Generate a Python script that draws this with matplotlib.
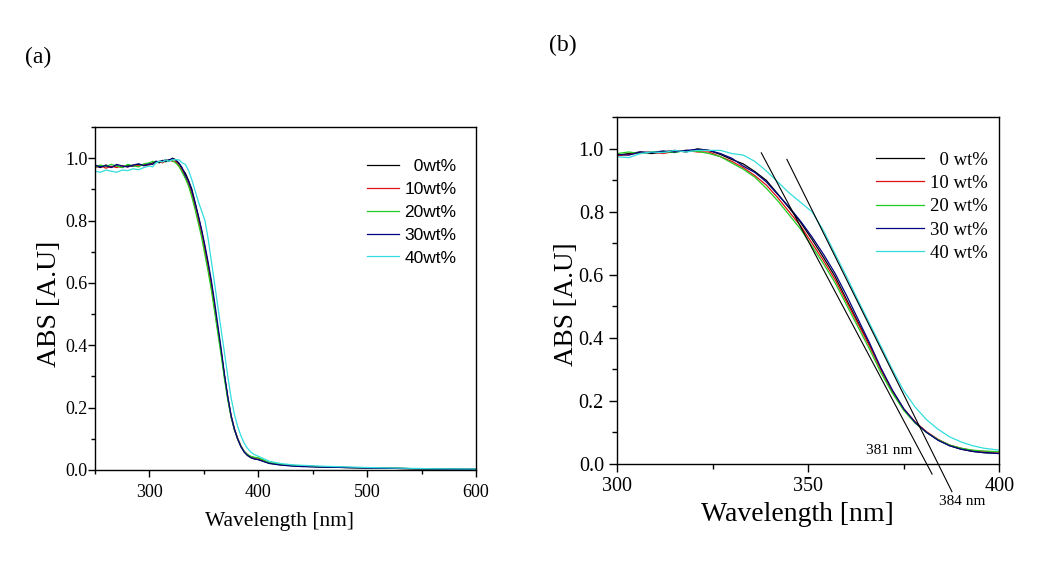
import matplotlib
matplotlib.use("Agg")
import matplotlib.pyplot as plt
from matplotlib.ticker import MultipleLocator, FormatStrFormatter
import numpy as np

# ---------------- data ----------------
wavelength = [250, 255, 260, 265, 270, 275, 280, 285, 290, 295,
              300, 303, 306, 309, 312, 315, 318, 321, 324, 327,
              330, 333, 336, 339, 342, 345, 348, 351, 354, 357,
              360, 363, 366, 369, 372, 375, 378, 381, 384, 387,
              390, 393, 396, 400, 410, 420, 430, 440, 460, 480,
              500, 530, 560, 600]

abs_0 = [0.975, 0.970, 0.978, 0.972, 0.976, 0.970, 0.978, 0.974, 0.980, 0.976,
         0.980, 0.985, 0.990, 0.985, 0.990, 0.995, 0.990, 1.000, 0.995, 0.982,
         0.966, 0.952, 0.928, 0.900, 0.857, 0.812, 0.766, 0.712, 0.655, 0.595,
         0.522, 0.450, 0.378, 0.300, 0.230, 0.172, 0.130, 0.100, 0.076, 0.058,
         0.047, 0.040, 0.036, 0.034, 0.022, 0.017, 0.014, 0.012, 0.010, 0.008,
         0.007, 0.005, 0.003, 0.002]

abs_10 = [0.970, 0.976, 0.968, 0.974, 0.970, 0.976, 0.972, 0.978, 0.975, 0.980,
          0.978, 0.982, 0.988, 0.990, 0.985, 0.992, 0.995, 0.990, 0.990, 0.975,
          0.960, 0.940, 0.915, 0.885, 0.845, 0.800, 0.755, 0.700, 0.645, 0.585,
          0.515, 0.445, 0.375, 0.300, 0.232, 0.175, 0.133, 0.102, 0.078, 0.060,
          0.050, 0.043, 0.040, 0.038, 0.023, 0.018, 0.015, 0.013, 0.010, 0.008,
          0.007, 0.005, 0.003, 0.002]

abs_20 = [0.972, 0.978, 0.974, 0.980, 0.975, 0.970, 0.980, 0.976, 0.972, 0.982,
          0.985, 0.990, 0.985, 0.990, 0.992, 0.988, 0.995, 0.992, 0.985, 0.975,
          0.955, 0.935, 0.910, 0.875, 0.835, 0.790, 0.745, 0.690, 0.635, 0.575,
          0.505, 0.435, 0.365, 0.290, 0.225, 0.170, 0.130, 0.100, 0.077, 0.060,
          0.050, 0.044, 0.041, 0.039, 0.024, 0.018, 0.015, 0.013, 0.010, 0.008,
          0.007, 0.005, 0.003, 0.002]

abs_30 = [0.978, 0.972, 0.976, 0.970, 0.980, 0.975, 0.972, 0.978, 0.982, 0.976,
          0.982, 0.980, 0.990, 0.988, 0.993, 0.990, 0.995, 0.998, 0.995, 0.985,
          0.970, 0.945, 0.925, 0.895, 0.855, 0.815, 0.770, 0.720, 0.665, 0.605,
          0.535, 0.460, 0.385, 0.305, 0.235, 0.175, 0.132, 0.100, 0.075, 0.058,
          0.047, 0.040, 0.036, 0.033, 0.021, 0.016, 0.013, 0.011, 0.009, 0.008,
          0.006, 0.005, 0.003, 0.002]

abs_40 = [0.958, 0.955, 0.962, 0.958, 0.955, 0.962, 0.960, 0.966, 0.963, 0.970,
          0.975, 0.972, 0.985, 0.990, 0.988, 0.995, 0.990, 0.995, 0.995, 0.995,
          0.985, 0.980, 0.960, 0.930, 0.895, 0.860, 0.830, 0.800, 0.740, 0.667,
          0.595, 0.520, 0.447, 0.374, 0.300, 0.232, 0.180, 0.140, 0.110, 0.086,
          0.070, 0.058, 0.050, 0.044, 0.028, 0.021, 0.017, 0.015, 0.012, 0.010,
          0.008, 0.006, 0.004, 0.003]

series = [abs_0, abs_10, abs_20, abs_30, abs_40]
labels_a = ["  0wt%", "10wt%", "20wt%", "30wt%", "40wt%"]
labels_b = ["  0 wt%", "10 wt%", "20 wt%", "30 wt%", "40 wt%"]
colors = ["#000000", "#e01010", "#22cc22", "#000080", "#33dddd"]

# tangent (band-edge) lines: onset wavelength, slope, start/end wavelengths
onsets = [381, 384]
slopes = [-0.0228, -0.0244]
tan_start = [337.7, 344.4]
tan_end = [382.4, 387.6]
onset_labels = ["381 nm", "384 nm"]
onset_label_pos = [(371.1, 0.044), (390.2, -0.12)]

# ---------------- figure ----------------
W, H = 1040, 579
fig = plt.figure(figsize=(W / 100, H / 100), dpi=100)
serif = ["Liberation Serif", "DejaVu Serif"]
narrow = ["Liberation Sans Narrow", "Liberation Sans", "DejaVu Sans"]

axA = fig.add_axes([95 / W, 1 - 470 / H, 381 / W, 343 / H])
axB = fig.add_axes([617.3 / W, 1 - 464 / H, 382 / W, 346.7 / H])

for ax in (axA, axB):
    for y, c, la, lb in zip(series, colors, labels_a, labels_b):
        ax.plot(wavelength, y, color=c, lw=0.9, label=la if ax is axA else lb)
    for s in ax.spines.values():
        s.set_linewidth(1.0)
    ax.set_ylim(0, 1.1)
    ax.yaxis.set_major_locator(MultipleLocator(0.2))
    ax.yaxis.set_minor_locator(MultipleLocator(0.1))
    ax.yaxis.set_major_formatter(FormatStrFormatter("%.1f"))

# panel (a)
axA.set_xlim(250, 600)
axA.xaxis.set_major_locator(MultipleLocator(100))
axA.xaxis.set_minor_locator(MultipleLocator(50))
axA.tick_params(which="major", direction="out", length=5, width=1)
axA.tick_params(which="minor", direction="out", length=3, width=1)
axA.tick_params(axis="y", which="major", pad=0.5)
axA.tick_params(axis="x", which="major", pad=5)
for t in axA.get_xticklabels() + axA.get_yticklabels():
    t.set_family(serif)
    t.set_fontsize(13)
axA.set_xlabel("Wavelength [nm]", family=serif, fontsize=15.5, va="center")
axA.xaxis.set_label_coords(0.484, -0.1516)
axA.set_ylabel("ABS [A.U]", family=serif, fontsize=20, va="center")
axA.yaxis.set_label_coords(-0.1207, 0.484)
axA.legend(loc="upper left", bbox_to_anchor=(0.714, 0.908), frameon=False,
           borderpad=0, borderaxespad=0, handlelength=1.85, handletextpad=0.3,
           labelspacing=0.45, prop={"family": narrow, "size": 12.5})

# panel (b)
axB.set_xlim(300, 400)
axB.xaxis.set_major_locator(MultipleLocator(50))
axB.xaxis.set_minor_locator(MultipleLocator(25))
axB.tick_params(which="major", direction="out", length=6, width=1, pad=3.6)
axB.tick_params(which="minor", direction="out", length=3.5, width=1)
for t in axB.get_xticklabels() + axB.get_yticklabels():
    t.set_family(serif)
    t.set_fontsize(14.5)
axB.set_xlabel("Wavelength [nm]", family=serif, fontsize=20, va="center")
axB.xaxis.set_label_coords(0.472, -0.147)
axB.set_ylabel("ABS [A.U]", family=serif, fontsize=19.5, va="center")
axB.yaxis.set_label_coords(-0.1317, 0.4615)

for on, sl, x0, x1, lab, pos in zip(onsets, slopes, tan_start, tan_end,
                                    onset_labels, onset_label_pos):
    xs = np.array([x0, x1])
    axB.plot(xs, sl * (xs - on), color="black", lw=0.8, clip_on=False)
    axB.text(pos[0], pos[1], lab, family=serif, fontsize=11,
             ha="center", va="center", clip_on=False)

axB.legend(loc="upper left", bbox_to_anchor=(0.678, 0.901), frameon=False,
           borderpad=0, borderaxespad=0, handlelength=2.54, handletextpad=0.32,
           labelspacing=0.33, prop={"family": serif, "size": 13.5})

fig.text(38 / W, 1 - 57 / H, "(a)", family=serif, fontsize=17, ha="center", va="center")
fig.text(563 / W, 1 - 45 / H, "(b)", family=serif, fontsize=17, ha="center", va="center")

fig.savefig("out.png", dpi=100)
